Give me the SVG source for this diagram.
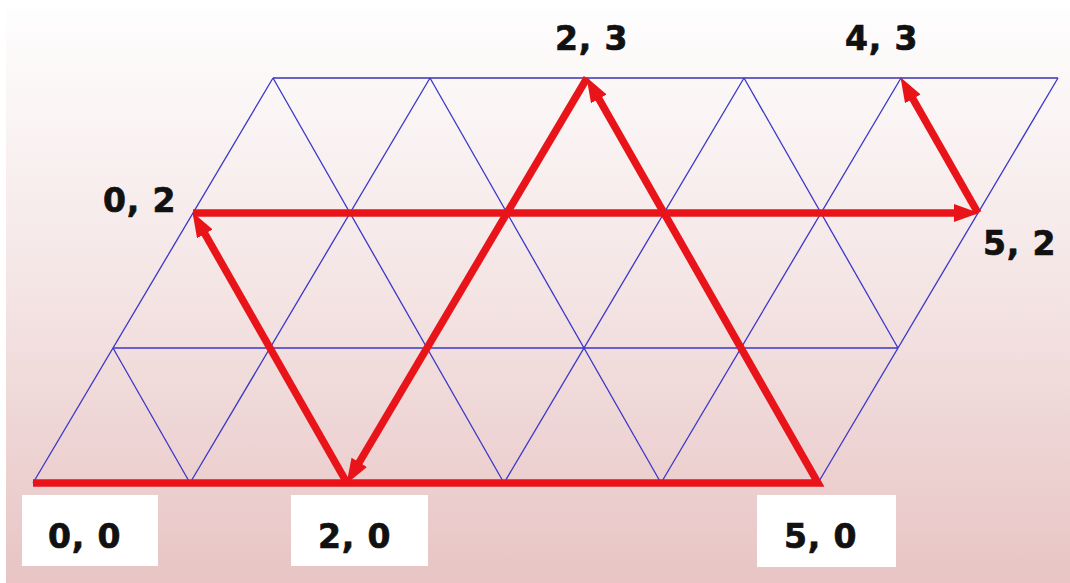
<svg xmlns="http://www.w3.org/2000/svg" width="1070" height="583" viewBox="0 0 1070 583">
  <defs>
    <linearGradient id="bg" x1="0" y1="0" x2="0" y2="1">
      <stop offset="0" stop-color="#fefdfd"/>
      <stop offset="0.15" stop-color="#fbf6f6"/>
      <stop offset="0.5" stop-color="#f4e4e4"/>
      <stop offset="1" stop-color="#e8c4c4"/>
    </linearGradient>
    <marker id="ah" markerUnits="userSpaceOnUse" markerWidth="26" markerHeight="20" refX="8" refY="9" orient="auto" viewBox="0 0 26 20">
      <path d="M0,0 L25,9 L0,18 Z" fill="#e8141a"/>
    </marker>
    <style>
      .grid line { stroke: #3a36c8; stroke-width: 1.3; fill: none; }
      .grid line.top { stroke: #6a62c4; stroke-width: 2; }
      .red { stroke: #e8141a; stroke-width: 7.5; fill: none; stroke-linejoin: miter; }
      .lbl { font-family: "DejaVu Sans", "Liberation Sans", sans-serif; font-weight: bold; font-size: 33px; letter-spacing: 0.8px; fill: #111111; stroke: #111111; stroke-width: 0.7px; }
      .box { fill: #ffffff; }
    </style>
  </defs>

  <rect x="0" y="0" width="1070" height="583" fill="#ffffff"/>
  <rect x="6" y="9" width="1064" height="574" fill="url(#bg)"/>

  <g id="grid" class="grid">
    <line x1="33" y1="483" x2="818" y2="483"/>
    <line x1="113" y1="348" x2="898" y2="348"/>
    <line x1="193" y1="213" x2="978" y2="213"/>
    <line class="top" x1="273" y1="78" x2="1058" y2="78"/>
    <line x1="33" y1="483" x2="273" y2="78"/>
    <line x1="190" y1="483" x2="430" y2="78"/>
    <line x1="347" y1="483" x2="587" y2="78"/>
    <line x1="504" y1="483" x2="744" y2="78"/>
    <line x1="661" y1="483" x2="901" y2="78"/>
    <line x1="818" y1="483" x2="1058" y2="78"/>
    <line x1="190" y1="483" x2="113" y2="348"/>
    <line x1="347" y1="483" x2="193" y2="213"/>
    <line x1="504" y1="483" x2="273" y2="78"/>
    <line x1="661" y1="483" x2="430" y2="78"/>
    <line x1="818" y1="483" x2="587" y2="78"/>
    <line x1="898" y1="348" x2="744" y2="78"/>
    <line x1="978" y1="213" x2="901" y2="78"/>
  </g>

  <g id="connectors">
    <polyline class="red" points="33,483 818,483 594.9,91.9" marker-end="url(#ah)"/>
    <line class="red" x1="587" y1="78" x2="355.2" y2="469.2" marker-end="url(#ah)"/>
    <line class="red" x1="347" y1="483" x2="200.9" y2="226.9" marker-end="url(#ah)"/>
    <line class="red" x1="193" y1="213" x2="962" y2="213" marker-end="url(#ah)"/>
    <line class="red" x1="978" y1="213" x2="908.9" y2="91.9" marker-end="url(#ah)"/>
  </g>

  <g id="node-0-0">
    <rect class="box" x="22" y="495" width="136" height="71"/>
    <text class="lbl" x="48" y="548">0, 0</text>
  </g>
  <g id="node-2-0">
    <rect class="box" x="291" y="495" width="137" height="71"/>
    <text class="lbl" x="318" y="548">2, 0</text>
  </g>
  <g id="node-5-0">
    <rect class="box" x="757" y="495" width="139" height="72"/>
    <text class="lbl" x="784" y="548">5, 0</text>
  </g>
  <g id="node-0-2">
    <text class="lbl" x="103" y="212">0, 2</text>
  </g>
  <g id="node-5-2">
    <text class="lbl" x="983" y="255">5, 2</text>
  </g>
  <g id="node-2-3">
    <text class="lbl" x="555" y="50">2, 3</text>
  </g>
  <g id="node-4-3">
    <text class="lbl" x="845" y="50">4, 3</text>
  </g>
</svg>
